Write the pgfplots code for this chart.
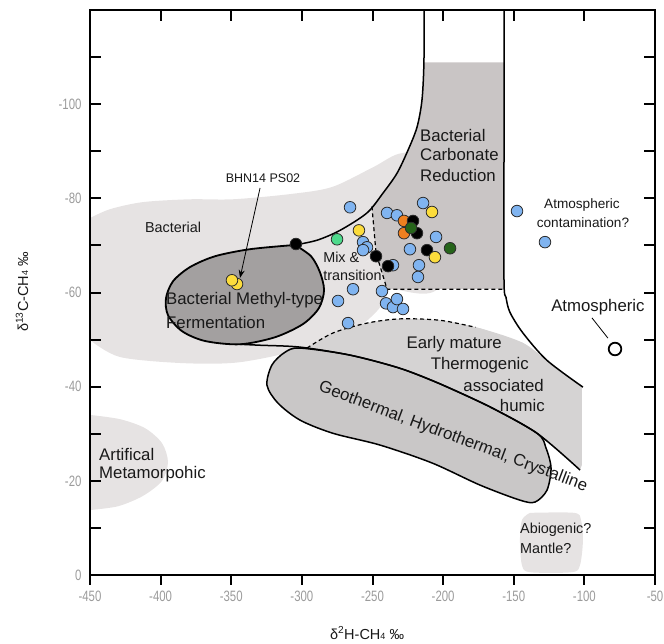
\documentclass[border=0pt]{standalone}
\usepackage{pgfplots}
\pgfplotsset{compat=1.18}
\usepackage{fontspec}
\setmainfont{Liberation Sans}
\newfontfamily\narrowfont[FakeStretch=0.76]{Liberation Sans}
\usetikzlibrary{arrows.meta}
\definecolor{bandgray}{HTML}{E6E3E3}
\definecolor{rectgray}{HTML}{C9C5C5}
\definecolor{earlygray}{HTML}{D5D3D3}
\definecolor{geogray}{HTML}{C9C7C7}
\definecolor{ellgray}{HTML}{A3A0A0}
\definecolor{ptblue}{RGB}{128,180,240}
\definecolor{ptyellow}{RGB}{252,220,60}
\definecolor{ptorange}{RGB}{238,128,32}
\definecolor{ptdkgreen}{RGB}{38,100,26}
\definecolor{ptltgreen}{RGB}{78,218,140}
\definecolor{ptedge}{RGB}{45,45,45}
\definecolor{tickgray}{RGB}{155,155,155}
\definecolor{txt}{RGB}{25,25,25}
\newcommand{\fbig}{\fontsize{16.8}{18}\selectfont}
\newcommand{\fmed}{\fontsize{14.4}{16}\selectfont}
\newcommand{\fsml}{\fontsize{13.6}{15}\selectfont}
\begin{document}
\begin{tikzpicture}
\path[use as bounding box] (0,0) rectangle (664pt,643pt);
\begin{axis}[
  at={(90pt,68pt)}, anchor=south west,
  width=565pt, height=565pt, scale only axis,
  xmin=-450, xmax=-50, ymin=-120, ymax=0, y dir=reverse,
  axis line style={line width=2.2pt, black},
  xtick={-450,-400,-350,-300,-250,-200,-150,-100,-50},
  ytick={-100,-80,-60,-40,-20,0},
  xtick pos=left, ytick pos=left,
  major tick length=0pt,
  xticklabel style={font=\narrowfont\fontsize{15}{15}\selectfont, text=tickgray, yshift=-12pt},
  yticklabel style={font=\narrowfont\fontsize{15}{15}\selectfont, text=tickgray, xshift=-5pt},
  /pgf/number format/assume math mode=true,
  clip=false,
]
% Bacterial band
\addplot[fill=bandgray, draw=none, smooth] coordinates {
(-450,-75.8) (-435.8,-77.7) (-412.5,-79.2) (-379.2,-79.8) (-348.8,-79.8) (-308.4,-80.9) (-278.7,-82.4) (-249.6,-86.6) (-229.1,-89.6) (-202.2,-88.1) (-202.2,-61.6) (-237.6,-60.7) (-240.4,-58.8) (-246.1,-56.3) (-255.3,-53.7) (-265.9,-52.0) (-296.4,-48.2) (-343.8,-45.2) (-384.2,-45.0) (-428.8,-46.3) (-450,-49.9)};
% Artificial metamorphic
\addplot[fill=bandgray, draw=none, smooth] coordinates {
(-450,-34.0) (-428.8,-33.1) (-411.1,-31.2) (-399.0,-28.0) (-394.8,-24.0) (-399.0,-20.0) (-412.5,-16.8) (-430.2,-14.6) (-450,-13.8)};
% Abiogenic
\addplot[fill=bandgray, draw=none, smooth] coordinates {
(-138.5,-13.2) (-107.3,-13.2) (-102.4,-11.7) (-101.0,-7.4) (-103.1,-2.1) (-108.8,-0.6) (-138.5,-0.6) (-144.2,-2.1) (-145.6,-7.4) (-144.2,-11.7) (-138.5,-13.2)};
% Early mature thermogenic
\addplot[fill=earlygray, draw=none, smooth] coordinates {
(-296.4,-48.2) (-278.0,-51.4) (-253.9,-53.5) (-230.5,-54.4) (-202.2,-54.1) (-173.9,-52.4) (-143.5,-49.3) (-124.3,-45.0) (-101.7,-39.9)};
\addplot[fill=earlygray, draw=none] coordinates {
(-296.4,-48.2) (-278.0,-51.4) (-253.9,-53.5) (-230.5,-54.4) (-202.2,-54.1) (-173.9,-52.4) (-143.5,-49.3) (-124.3,-45.0) (-101.7,-39.9) (-101.7,-23.4) (-103.1,-22.3) (-133.5,-30.1) (-166.8,-35.7) (-202.2,-40.6) (-230.5,-43.9) (-265.9,-46.7) (-296.4,-48.2)};
% Geothermal
\addplot[fill=geogray, draw=black, line width=1.5pt, smooth] coordinates {
(-202.2,-40.6) (-166.8,-35.7) (-133.5,-30.1) (-127.2,-27.0) (-123.6,-22.7) (-126.5,-18.0) (-134.9,-15.5) (-145.6,-15.9) (-173.9,-19.1) (-207.9,-23.8) (-244.7,-27.6) (-278.0,-30.1) (-301.3,-32.9) (-316.9,-36.5) (-324.7,-40.3) (-321.2,-44.6) (-312.0,-47.3) (-301.3,-48.2) (-265.9,-46.7) (-230.5,-43.9) (-202.2,-40.6)};
% Bacterial carbonate reduction
\addplot[fill=rectgray, draw=none] coordinates {
(-250.4,-78.3) (-246.5,-79.8) (-242.6,-81.1) (-237.8,-83.2) (-232.7,-85.3) (-228.5,-87.8) (-224.9,-90.2) (-221.4,-92.7) (-218.5,-95.1) (-215.0,-100.8) (-213.8,-104.5) (-213.5,-108.9) (-156.9,-108.9) (-156.9,-60.7) (-239.7,-60.7) (-247.5,-68.4) (-250.4,-78.3)};
% Methyl-type ellipse
\addplot[fill=ellgray, draw=black, line width=1.8pt, smooth] coordinates {
(-304.9,-70.1) (-293.5,-67.7) (-287.2,-64.3) (-284.3,-60.5) (-287.9,-56.7) (-299.2,-53.3) (-319.0,-50.5) (-343.8,-49.0) (-368.6,-49.7) (-384.9,-51.8) (-394.8,-55.2) (-396.2,-58.8) (-391.2,-62.4) (-379.2,-65.4) (-361.5,-67.7) (-336.7,-69.2) (-304.9,-70.1)};
% long boundary line
\addplot[black, line width=1.5pt, smooth] coordinates {
(-343.8,-49.0) (-329.6,-48.8) (-301.3,-48.4) (-265.9,-46.7) (-230.5,-43.9) (-202.2,-40.6) (-166.8,-35.7) (-133.5,-30.1) (-103.1,-22.3)};
% left black curve
\addplot[black, line width=1.5pt, smooth] coordinates {
(-304.9,-70.1) (-289.3,-71.1) (-273.0,-73.2) (-253.9,-76.9) (-242.6,-81.1) (-232.7,-85.3) (-224.9,-90.2) (-218.5,-95.1) (-215.0,-100.8) (-213.6,-108.7) (-213.5,-120)};
% right black curve
\addplot[black, line width=1.5pt, smooth] coordinates {
(-156.9,-120) (-156.9,-90) (-156.9,-62.6) (-155.5,-59.0) (-152.7,-55.8) (-143.5,-51.4) (-126.5,-45.6) (-101.0,-39.9)};
% dashed lines
\addplot[black, line width=1.2pt, dash pattern=on 4pt off 3pt] coordinates {
(-250.4,-78.3) (-247.5,-68.4) (-239.7,-60.7) (-156.9,-60.7)};
\addplot[black, line width=1.2pt, dash pattern=on 4pt off 3pt, smooth] coordinates {
(-296.4,-48.2) (-278.0,-51.4) (-253.9,-53.5) (-230.5,-54.4) (-202.2,-54.1) (-177,-52.6)};
% leader line and arrow
\addplot[black, line width=0.8pt] coordinates {(-94.6,-54.6) (-83.3,-50.3)};
\addplot[black, line width=0.8pt, -{Stealth[length=8pt,width=6pt]}] coordinates {(-329.6,-82.2) (-343.8,-63.1)};
% samples
\pgfplotsset{samp/.style={only marks, mark=*, mark size=5.8pt, mark options={fill=#1, draw=ptedge, line width=0.8pt}}}
\addplot[samp=ptblue] coordinates {
(-265.9,-78.1) (-239.7,-76.9) (-232.7,-76.4) (-214.2,-79.0) (-205.0,-71.8) (-223.5,-69.2) (-217.1,-65.8) (-217.8,-63.3) (-256.7,-70.7) (-253.9,-69.6) (-256.7,-69.0) (-235.5,-65.8) (-263.8,-60.7) (-243.3,-60.3) (-240.4,-57.7) (-235.5,-56.9) (-232.7,-58.6) (-228.4,-56.5) (-274.4,-58.2) (-267.3,-53.5) (-147.7,-77.3) (-127.9,-70.7)};
\addplot[samp=ptorange] coordinates {(-227.7,-75.2) (-227.7,-72.6)};
\addplot[samp=black] coordinates {(-221.3,-75.2) (-218.5,-72.6) (-211.4,-69.0) (-247.5,-67.7) (-239.0,-65.6) (-304.2,-70.3)};
\addplot[samp=ptyellow] coordinates {(-259.6,-73.2) (-207.9,-77.1) (-205.8,-67.5) (-345.9,-61.8) (-349.5,-62.6)};
\addplot[samp=ptdkgreen] coordinates {(-222.7,-73.7) (-195.1,-69.4)};
\addplot[samp=ptltgreen] coordinates {(-275.1,-71.3)};
\addplot[only marks, mark=*, mark size=6.3pt, mark options={fill=white, draw=black, line width=1.8pt}] coordinates {(-78.3,-48.0)};
% labels
\begin{scope}[every node/.style={text=txt, inner sep=0pt}]
\node[font=\fmed] at (axis cs:-391.2,-73.9) {Bacterial};
\node[font=\fontsize{12.5}{14}\selectfont] at (axis cs:-327.5,-84.3) {BHN14 PS02};
\node[font=\fbig, anchor=west] at (axis cs:-396.2,-58.4) {Bacterial Methyl-type};
\node[font=\fbig, anchor=west] at (axis cs:-396.2,-53.7) {Fermentation};
\node[font=\fmed, anchor=west] at (axis cs:-285.0,-67.5) {Mix \&};
\node[font=\fmed, anchor=west] at (axis cs:-285.0,-63.7) {transition};
\node[font=\fbig, anchor=west] at (axis cs:-216.4,-93.4) {Bacterial};
\node[font=\fbig, anchor=west] at (axis cs:-216.4,-89.4) {Carbonate};
\node[font=\fbig, anchor=west] at (axis cs:-216.4,-84.9) {Reduction};
\node[font=\fsml] at (axis cs:-101.7,-78.6) {Atmospheric};
\node[font=\fsml] at (axis cs:-101.0,-74.9) {contamination?};
\node[font=\fbig] at (axis cs:-90.4,-56.9) {Atmospheric};
\node[font=\fbig, anchor=east] at (axis cs:-158.3,-49.0) {Early mature};
\node[font=\fbig, anchor=east] at (axis cs:-139.2,-44.6) {Thermogenic};
\node[font=\fbig, anchor=east] at (axis cs:-128.6,-40.3) {associated};
\node[font=\fbig, anchor=east] at (axis cs:-127.9,-36.1) {humic};
\node[font=\fbig, rotate=-20.6] at (axis cs:-193.0,-29.3) {Geothermal, Hydrothermal, Crystalline};
\node[font=\fbig, anchor=west] at (axis cs:-443.6,-25.5) {Artifical};
\node[font=\fbig, anchor=west] at (axis cs:-443.6,-21.4) {Metamorpohic};
\node[font=\fmed, anchor=west] at (axis cs:-145.6,-9.6) {Abiogenic?};
\node[font=\fmed, anchor=west] at (axis cs:-145.6,-5.7) {Mantle?};
\end{scope}
% frame and tick lines as plots
\addplot[black, line width=2.2pt] coordinates {(-450,-120) (-50,-120) (-50,0) (-450,0) (-450,-120)};
\pgfplotsinvokeforeach{-450,-400,-350,-300,-250,-200,-150,-100,-50}{
  \addplot[black, line width=2pt] coordinates {(#1,0) (#1,2.1)};
  \addplot[black, line width=2pt] coordinates {(#1,-120) (#1,-117.7)};
}
\pgfplotsinvokeforeach{-110,-100,-90,-80,-70,-60,-50,-40,-30,-20,-10}{
  \addplot[black, line width=2pt] coordinates {(-450,#1) (-442.2,#1)};
  \addplot[black, line width=2pt] coordinates {(-50,#1) (-57.8,#1)};
}
\end{axis}
\node[rotate=90, font=\fontsize{14.5}{16}\selectfont, text=txt] at (22pt,351pt) {δ\textsuperscript{13}C-CH{\fontsize{9}{9}\selectfont 4} ‰};
\node[font=\fontsize{14.5}{16}\selectfont, text=txt] at (367pt,10pt) {δ\textsuperscript{2}H-CH{\fontsize{9}{9}\selectfont 4} ‰};
\end{tikzpicture}
\end{document}
